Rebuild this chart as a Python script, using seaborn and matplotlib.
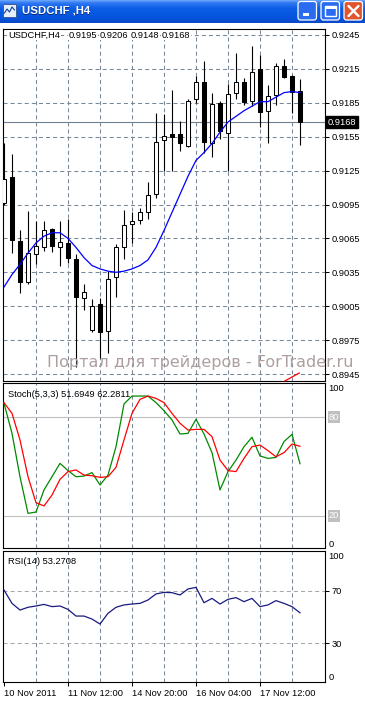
import numpy as np
import matplotlib
matplotlib.use("Agg")
import matplotlib.pyplot as plt
import seaborn as sns
from matplotlib.patches import Rectangle, FancyBboxPatch
from matplotlib.colors import LinearSegmentedColormap
from matplotlib.transforms import blended_transform_factory

# ---------------- data ----------------
symbol = "USDCHF,H4"
opens  = [0.9096, 0.9119, 0.9063, 0.9026, 0.9051, 0.9057, 0.9073, 0.9057, 0.9061, 0.9047,
          0.9012, 0.8984, 0.9007, 0.8983, 0.9031, 0.9057, 0.9078, 0.9081, 0.9088, 0.9104,
          0.9152, 0.9157, 0.9157, 0.9147, 0.9188, 0.9203, 0.9149, 0.9185, 0.9158, 0.9194,
          0.9203, 0.9187, 0.9215, 0.9178, 0.9192, 0.9218, 0.9209, 0.9195]
highs  = [0.9149, 0.9140, 0.9072, 0.9089, 0.9080, 0.9080, 0.9074, 0.9080, 0.9082, 0.9051,
          0.9025, 0.9011, 0.9012, 0.9036, 0.9060, 0.9090, 0.9088, 0.9092, 0.9115, 0.9176,
          0.9175, 0.9196, 0.9169, 0.9188, 0.9209, 0.9222, 0.9194, 0.9187, 0.9202, 0.9229,
          0.9207, 0.9235, 0.9227, 0.9201, 0.9220, 0.9224, 0.9210, 0.9206]
lows   = [0.9095, 0.9052, 0.9017, 0.9025, 0.9042, 0.9054, 0.9053, 0.9041, 0.9043, 0.8951,
          0.9002, 0.8982, 0.8959, 0.8964, 0.9013, 0.9047, 0.9061, 0.9078, 0.9082, 0.9101,
          0.9125, 0.9125, 0.9142, 0.9146, 0.9185, 0.9141, 0.9137, 0.9153, 0.9125, 0.9188,
          0.9183, 0.9182, 0.9164, 0.9149, 0.9183, 0.9207, 0.9176, 0.9148]
closes = [0.9118, 0.9064, 0.9026, 0.9052, 0.9058, 0.9072, 0.9058, 0.9062, 0.9048, 0.9013,
          0.9018, 0.9005, 0.8982, 0.9029, 0.9057, 0.9077, 0.9080, 0.9088, 0.9103, 0.9150,
          0.9156, 0.9155, 0.9149, 0.9187, 0.9203, 0.9150, 0.9184, 0.9160, 0.9193, 0.9203,
          0.9186, 0.9212, 0.9177, 0.9191, 0.9218, 0.9208, 0.9195, 0.9168]
ma_line = [0.9022, 0.9033, 0.9042, 0.9052, 0.9061, 0.9067, 0.9070, 0.9070, 0.9065, 0.9057,
           0.9048, 0.9041, 0.9038, 0.9036, 0.9035, 0.9036, 0.9038, 0.9041, 0.9046, 0.9057,
           0.9072, 0.9088, 0.9104, 0.9120, 0.9134, 0.9141, 0.9149, 0.9159, 0.9168, 0.9173,
           0.9178, 0.9182, 0.9186, 0.9186, 0.9190, 0.9194, 0.9195, 0.9194]
stoch_main = [88.3, 70.1, 43.8, 21.6, 22.4, 35.8, 43.8, 51.9, 47.5, 43.8,
              44.2, 46.3, 38.8, 44.8, 62.0, 87.9, 92.7, 92.7, 92.7, 88.7,
              83.8, 78.2, 69.7, 70.1, 78.6, 69.7, 58.4, 35.8, 46.9, 53.9,
              62.0, 67.7, 56.4, 54.9, 55.5, 65.1, 69.5, 51.6949]
stoch_signal = [88.7, 82.2, 66.1, 43.8, 28.1, 26.1, 32.7, 42.2, 46.9, 47.9,
                44.8, 44.4, 43.4, 43.8, 49.5, 66.1, 82.2, 90.7, 92.7, 91.3,
                88.7, 82.2, 76.2, 72.1, 72.5, 72.5, 68.1, 53.9, 47.5, 46.9,
                54.9, 62.0, 63.0, 59.6, 55.9, 58.4, 63.6, 62.2811]
rsi = [70.7, 60.5, 55.4, 57.5, 58.5, 59.7, 58.0, 58.5, 55.9, 50.8,
       50.8, 48.5, 44.7, 52.9, 57.5, 59.3, 60.0, 60.5, 63.1, 67.7,
       68.9, 68.7, 66.9, 71.5, 72.7, 61.0, 64.3, 60.0, 63.6, 64.9,
       61.8, 64.3, 58.0, 59.3, 62.6, 60.5, 58.0, 53.2708]
price_levels = [0.9245, 0.9215, 0.9185, 0.9155, 0.9125, 0.9095, 0.9065, 0.9035, 0.9005, 0.8975, 0.8945]
date_labels = ["10 Nov 2011", "11 Nov 12:00", "14 Nov 20:00", "16 Nov 04:00", "17 Nov 12:00"]
date_bars = [0, 8, 16, 24, 32]
red_mark_x = [35.1, 36.9]
red_mark_y = [0.89388, 0.89459]
watermark = "Портал для трейдеров - ForTrader.ru"

# ---------------- setup ----------------
plt.rcParams['font.family'] = ['Liberation Sans', 'DejaVu Sans']
plt.rcParams['lines.scale_dashes'] = False
FS = 6.7

W, H = 365, 702
fig = plt.figure(figsize=(W / 100, H / 100), dpi=100)
fig.patch.set_facecolor('white')

def rect(x0, y0, x1, y1):
    return [x0 / W, 1 - y1 / H, (x1 - x0) / W, (y1 - y0) / H]

idx = np.arange(len(closes))
o = np.array(opens); c = np.array(closes); hi = np.array(highs); lo = np.array(lows)
XL = (-0.125, 40.125)
GRID = dict(color='#778899', lw=0.75, ls=(0, (2.9, 2.2)), zorder=0.5)
grid_bars = np.arange(4, 38, 4)

def style_axes(ax):
    ax.set_facecolor('white')
    for s in ax.spines.values():
        s.set_color('black'); s.set_linewidth(0.8)
    ax.set_xlim(*XL)
    for g in grid_bars:
        ax.axvline(g, **GRID)
    ax.yaxis.tick_right()
    ax.tick_params(axis='y', which='both', length=3, width=0.75, pad=1.5,
                   labelsize=FS, direction='out', colors='black')
    ax.set_xticks([])

# ---------------- main price panel ----------------
k = 0.003 / 33.9
ax1 = fig.add_axes(rect(3, 29, 325, 381))
style_axes(ax1)
ax1.set_ylim(0.9245 - (381 - 35) * k, 0.9245 + (35 - 29) * k)
for p in price_levels:
    ax1.axhline(p, **GRID)
ax1.set_yticks(price_levels)
ax1.set_yticklabels([f"{p:.4f}" for p in price_levels])

ax1.vlines(idx, lo, hi, color='black', lw=0.8, zorder=2)
body_col = ['white' if cc >= oo else 'black' for oo, cc in zip(o, c)]
ax1.bar(idx, np.maximum(np.abs(c - o), 0.00003), bottom=np.minimum(o, c), width=0.5,
        color=body_col, edgecolor='black', linewidth=0.75, zorder=3)
sns.lineplot(x=idx, y=ma_line, ax=ax1, color='#0000ff', lw=0.9, legend=False, zorder=4)
ax1.set_xlabel(''); ax1.set_ylabel('')

last = closes[-1]
ax1.axhline(last, color='#708090', lw=0.8, zorder=1)
bt = blended_transform_factory(ax1.transAxes, ax1.transData)
ax1.text(1.008, last, f"{last:.4f}", transform=bt, color='white', fontsize=FS,
         va='center', ha='left', bbox=dict(facecolor='black', edgecolor='black', pad=1.2), zorder=6)
ax1.plot(red_mark_x, red_mark_y, color='red', lw=0.9, clip_on=False, zorder=5)

hdr_x = [8, 69, 100, 131, 162]
hdr_t = [symbol] + [f"{v:.4f}" for v in (opens[-1], highs[-1], lows[-1], closes[-1])]
for xx, tt in zip(hdr_x, hdr_t):
    fig.text(xx / W, 1 - 35 / H, tt, fontsize=FS, va='center', ha='left',
             bbox=dict(facecolor='white', edgecolor='none', pad=0.5), zorder=10)

# ---------------- stochastic panel ----------------
ax2 = fig.add_axes(rect(3, 383, 325, 548))
style_axes(ax2)
ax2.set_ylim((549 - 548) / 1.65, (549 - 383) / 1.65)
ax2.axhline(80, color='#c0c0c0', lw=0.8, zorder=0.6)
ax2.axhline(20, color='#c0c0c0', lw=0.8, zorder=0.6)
sns.lineplot(x=idx, y=stoch_main, ax=ax2, color='#008a00', lw=0.9, legend=False, zorder=3)
sns.lineplot(x=idx, y=stoch_signal, ax=ax2, color='#ff0000', lw=0.9, legend=False, zorder=4)
ax2.set_xlabel(''); ax2.set_ylabel('')
ax2.set_yticks([])
bt2 = blended_transform_factory(ax2.transAxes, ax2.transData)
ax2.text(1.01, 100, "100", transform=bt2, fontsize=FS, va='top', ha='left')
ax2.text(1.01, 0, "0", transform=bt2, fontsize=FS, va='bottom', ha='left')
for lv in (80, 20):
    ax2.text(1.012, lv, str(lv), transform=bt2, fontsize=FS, va='center', ha='left',
             color='white', bbox=dict(facecolor='#c0c0c0', edgecolor='none', pad=0.8))
fig.text(8 / W, 1 - 394 / H, f"Stoch(5,3,3) {stoch_main[-1]:.4f} {stoch_signal[-1]:.4f}",
         fontsize=FS, va='center', ha='left', zorder=10)

# ---------------- RSI panel ----------------
ax3 = fig.add_axes(rect(3, 551, 325, 682))
style_axes(ax3)
ax3.set_ylim((682.5 - 682) / 1.308, (682.5 - 551) / 1.308)
for lv in (70, 30):
    ax3.axhline(lv, color='#a8a8a8', lw=0.75, ls=(0, (2.9, 2.2)), zorder=0.6)
sns.lineplot(x=idx, y=rsi, ax=ax3, color='#1a1a80', lw=0.9, legend=False, zorder=3)
ax3.set_xlabel(''); ax3.set_ylabel('')
ax3.set_yticks([70, 30])
ax3.set_yticklabels(["70", "30"])
bt3 = blended_transform_factory(ax3.transAxes, ax3.transData)
ax3.text(1.01, 100, "100", transform=bt3, fontsize=FS, va='top', ha='left')
ax3.text(1.01, 0, "0", transform=bt3, fontsize=FS, va='bottom', ha='left')
ax3.set_xticks(date_bars)
ax3.set_xticklabels(date_labels, ha='left')
ax3.tick_params(axis='x', length=3, width=0.75, pad=2, labelsize=FS, direction='out')
fig.text(8 / W, 1 - 561 / H, f"RSI(14) {rsi[-1]:.4f}", fontsize=FS, va='center', ha='left', zorder=10)

# ---------------- watermark ----------------
fig.text(47 / W, 1 - 362 / H, watermark, fontsize=11.5, color='#ad9f9f', va='center', ha='left',
         family='DejaVu Sans', zorder=20)

# ---------------- title bar ----------------
axT = fig.add_axes(rect(0, 0, W, 23))
axT.set_xlim(0, W); axT.set_ylim(23, 0); axT.axis('off')
cmap = LinearSegmentedColormap.from_list('xp', [(0, '#6aa6fb'), (0.12, '#3178f2'), (0.35, '#0b5ee6'),
                                                (0.8, '#0553dd'), (1, '#0a48c6')])
axT.imshow(np.linspace(0, 1, 46)[:, None], aspect='auto', cmap=cmap, extent=(0, W, 23, 0))
axT.add_patch(Rectangle((3, 4), 13, 13, fc='#e6eef9', ec='#3d5f9a', lw=0.7))
axT.plot([4.5, 7, 9.5, 12, 14.5], [13, 9, 12, 7, 10], color='#1040a0', lw=0.8)
axT.text(22.5, 11.5, "USDCHF ,H4", color='#0a2a80', fontsize=8.2, fontweight='bold', va='center', ha='left')
axT.text(21.5, 10.5, "USDCHF ,H4", color='white', fontsize=8.2, fontweight='bold', va='center', ha='left')
for x0, fc in ((298, '#2a6cf0'), (321, '#2a6cf0'), (344, '#e0552e')):
    axT.add_patch(FancyBboxPatch((x0, 1.5), 18.5, 18.5, boxstyle='round,pad=0,rounding_size=2.5',
                                 fc=fc, ec='white', lw=0.9))
axT.add_patch(Rectangle((302.5, 12.5), 6, 3, fc='white', ec='none'))
axT.add_patch(Rectangle((325, 6), 10.5, 10, fill=False, ec='white', lw=1.0))
axT.add_patch(Rectangle((325, 6), 10.5, 2.5, fc='white', ec='none'))
axT.plot([348.5, 358.5], [6, 16], color='white', lw=1.7, solid_capstyle='round')
axT.plot([358.5, 348.5], [6, 16], color='white', lw=1.7, solid_capstyle='round')

fig.savefig("out.png", dpi=100, facecolor=fig.get_facecolor())
